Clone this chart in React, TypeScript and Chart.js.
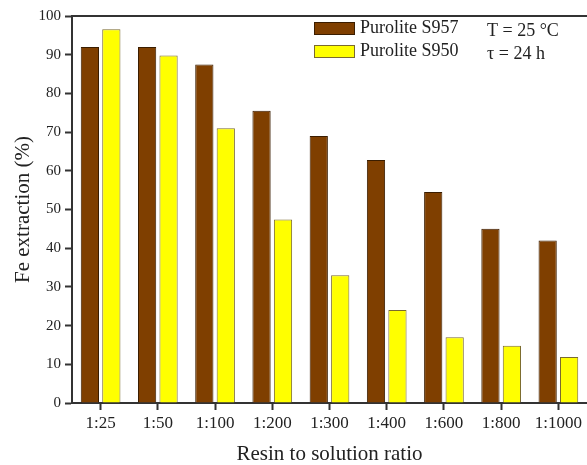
import React, { useEffect, useRef } from "react";
import { Chart, registerables } from "chart.js";

Chart.register(...registerables);

const categories = ["1:25", "1:50", "1:100", "1:200", "1:300", "1:400", "1:600", "1:800", "1:1000"];
const s957 = [92, 92, 87.5, 75.5, 69, 62.8, 54.5, 45, 42];
const s950 = [96.6, 89.8, 71, 47.4, 33, 24, 17, 14.8, 11.9];
const yTicks = [0, 10, 20, 30, 40, 50, 60, 70, 80, 90, 100];
const notes = ["T = 25 \u00B0C", "\u03C4 = 24 h"];

const FONT = "'Liberation Serif', 'DejaVu Serif', serif";

const overlayPlugin = {
  id: "overlay",
  afterDraw(chart: any) {
    const { ctx, chartArea } = chart;
    ctx.save();
    // top frame line
    ctx.strokeStyle = "#333";
    ctx.lineWidth = 2;
    ctx.beginPath();
    ctx.moveTo(chartArea.left - 1, chartArea.top);
    ctx.lineTo(chartArea.right, chartArea.top);
    ctx.stroke();
    // legend
    const ds = chart.data.datasets;
    ctx.font = `18px ${FONT}`;
    ctx.textBaseline = "middle";
    ds.forEach((d: any, i: number) => {
      const y = 22 + i * 23;
      ctx.fillStyle = d.backgroundColor;
      ctx.strokeStyle = d.borderColor;
      ctx.lineWidth = 1;
      ctx.fillRect(314, y, 41, 13);
      ctx.strokeRect(314.5, y + 0.5, 40, 12);
      ctx.fillStyle = "#222";
      ctx.fillText(d.label, 360, y + 6);
      ctx.fillText(notes[i], 487, y + 9);
    });
    ctx.restore();
  },
};

export default function App() {
  const ref = useRef<HTMLCanvasElement>(null);
  useEffect(() => {
    document.body.style.margin = "0";
    const chart = new Chart(ref.current!, {
      type: "bar",
      data: {
        labels: categories,
        datasets: [
          {
            label: "Purolite S957",
            data: s957,
            backgroundColor: "#7F3F00",
            borderColor: "#3a1d00",
            borderWidth: 1,
            categoryPercentage: 0.75,
            barPercentage: 0.85,
          },
          {
            label: "Purolite S950",
            data: s950,
            backgroundColor: "#FFFF00",
            borderColor: "#7a6a30",
            borderWidth: 1,
            categoryPercentage: 0.75,
            barPercentage: 0.85,
          },
        ],
      },
      options: {
        animation: false,
        responsive: false,
        layout: { padding: { top: 16, right: 0, left: 0, bottom: 0 } },
        plugins: { legend: { display: false }, tooltip: { enabled: false } },
        scales: {
          x: {
            afterFit: (s: any) => { s.height = 62; },
            grid: {
              offset: false,
              drawOnChartArea: false,
              tickLength: 7,
              tickColor: "#333",
              tickWidth: 2,
            },
            border: { color: "#333", width: 2 },
            ticks: { color: "#222", font: { family: FONT, size: 17 }, padding: 3, maxRotation: 0, autoSkip: false },
            title: {
              display: true,
              text: "Resin to solution ratio",
              color: "#222",
              font: { family: FONT, size: 21 },
              padding: { top: 4, bottom: -2 },
            },
          },
          y: {
            min: 0,
            max: 100,
            afterFit: (s: any) => { s.width = 72; },
            afterBuildTicks: (s: any) => { s.ticks = yTicks.map((v) => ({ value: v })); },
            grid: {
              drawOnChartArea: false,
              tickLength: 7,
              tickColor: "#333",
              tickWidth: 2,
            },
            border: { color: "#333", width: 2 },
            ticks: { color: "#222", font: { family: FONT, size: 15 }, padding: 4 },
            title: {
              display: true,
              text: "Fe extraction (%)",
              color: "#222",
              font: { family: FONT, size: 21 },
              padding: { top: 11, bottom: 0 },
            },
          },
        },
      },
      plugins: [overlayPlugin],
    });
    return () => chart.destroy();
  }, []);
  return <canvas ref={ref} width={587} height={465} style={{ display: "block" }} />;
}
